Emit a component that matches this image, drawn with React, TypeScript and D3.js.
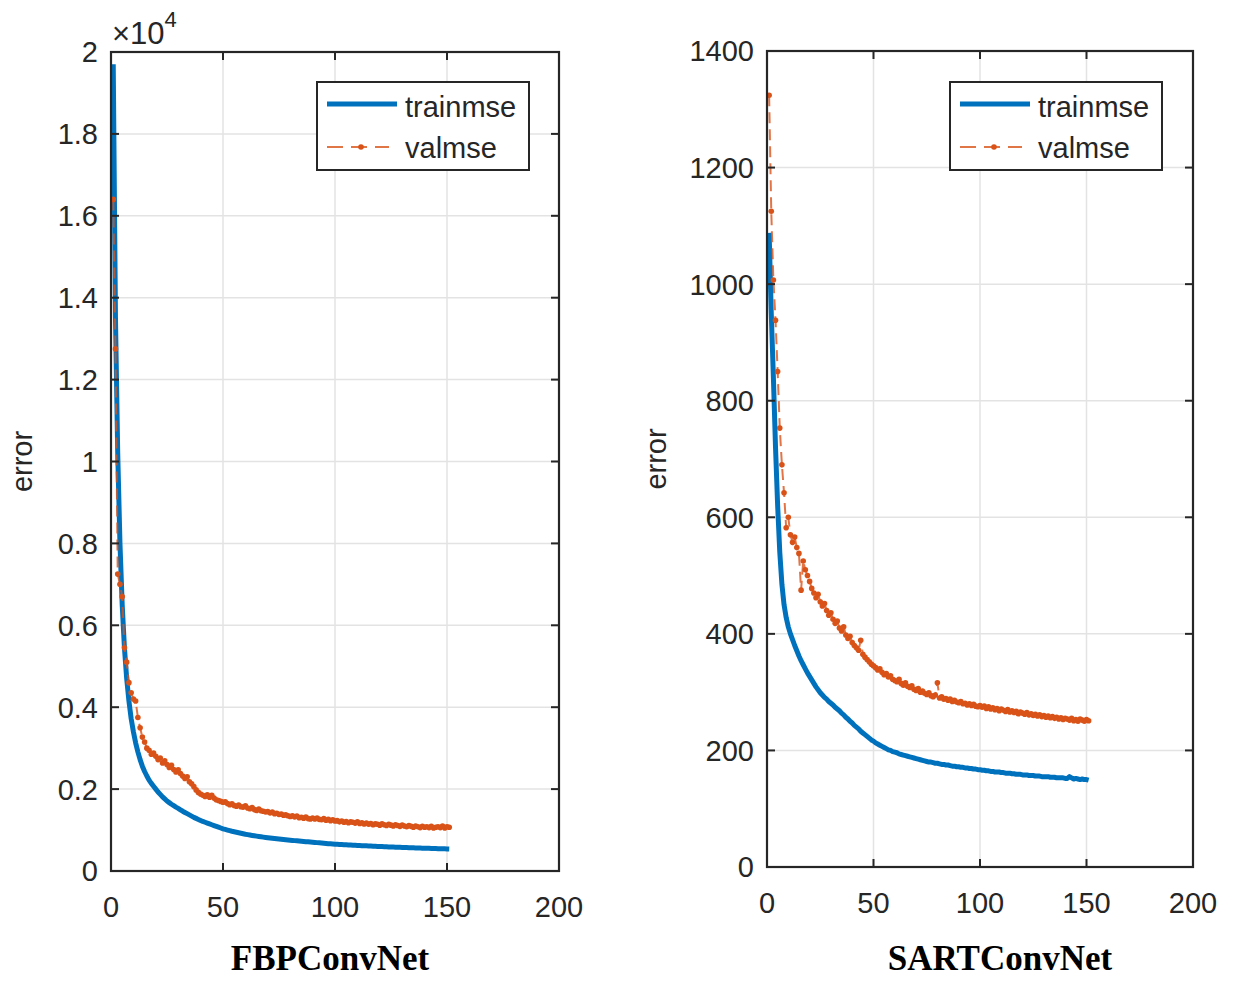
import React from "react";
import * as d3 from "d3";

// FBPConvNet (left) – raw error values, epochs 1..151
const fbpTrain = [
  19700, 13500, 10200, 8000, 6500, 5450, 4700, 4150, 3720, 3400,
  3130, 2910, 2720, 2560, 2430, 2320, 2220, 2140, 2070, 2000,
  1930, 1870, 1810, 1760, 1710, 1670, 1630, 1595, 1560, 1530,
  1495, 1460, 1430, 1400, 1370, 1340, 1310, 1285, 1260, 1235,
  1210, 1190, 1170, 1150, 1130, 1110, 1090, 1070, 1050, 1030,
  1015, 1000, 985, 970, 958, 946, 934, 922, 910, 898,
  888, 878, 869, 860, 851, 843, 835, 827, 819, 812,
  805, 798, 792, 786, 780, 774, 768, 762, 757, 752,
  747, 742, 737, 732, 727, 722, 717, 712, 708, 704,
  698, 693, 688, 683, 678, 673, 668, 664, 660, 656,
  652, 649, 646, 643, 640, 637, 634, 631, 628, 625,
  622, 619, 616, 614, 611, 608, 606, 603, 601, 598,
  596, 594, 591, 589, 587, 585, 582, 580, 578, 576,
  574, 572, 570, 568, 566, 564, 562, 560, 558, 556,
  555, 553, 551, 550, 548, 546, 545, 543, 542, 540, 538,
];
const fbpVal = [
  16400, 12750, 7250, 7000, 6700, 5450, 5100, 4600, 4350, 4200,
  4150, 3750, 3500, 3270, 3150, 3000, 2950, 2850, 2880, 2800,
  2720, 2760, 2640, 2690, 2600, 2530, 2580, 2480, 2420, 2470,
  2380, 2320, 2260, 2300, 2180, 2130, 2060, 1980, 1920, 1880,
  1850, 1820, 1860, 1800, 1850, 1780, 1740, 1720, 1700, 1680,
  1690, 1650, 1620, 1640, 1600, 1580, 1610, 1570, 1560, 1590,
  1540, 1520, 1550, 1500, 1480, 1510, 1470, 1460, 1440, 1450,
  1420, 1440, 1400, 1410, 1380, 1390, 1360, 1370, 1350, 1330,
  1350, 1320, 1340, 1300, 1310, 1290, 1320, 1280, 1270, 1290,
  1270, 1290, 1260, 1250, 1280, 1240, 1260, 1230, 1250, 1220,
  1230, 1200, 1220, 1190, 1210, 1180, 1200, 1190, 1170, 1200,
  1160, 1180, 1150, 1170, 1140, 1160, 1130, 1150, 1140, 1120,
  1150, 1130, 1110, 1140, 1120, 1100, 1130, 1110, 1090, 1120,
  1100, 1080, 1110, 1090, 1070, 1100, 1080, 1060, 1090, 1070,
  1080, 1060, 1090, 1050, 1070, 1080, 1060, 1100, 1050, 1080, 1070,
];

// SARTConvNet (right)
const sartTrain = [
  1088, 950, 840, 720, 620, 540, 485, 450, 428, 412,
  400, 390, 380, 371, 362, 354, 347, 340, 333, 327,
  321, 315, 309, 304, 299, 295, 291, 288, 284, 281,
  278, 274, 271, 268, 264, 261, 257, 254, 250, 247,
  243, 240, 237, 233, 230, 227, 224, 221, 218, 216,
  213, 211, 209, 207, 205, 203, 201, 200, 198, 197,
  196, 194, 193, 192, 191, 190, 189, 188, 187, 186,
  185, 184, 183, 182, 181, 180, 180, 179, 178, 178,
  177, 176, 176, 175, 175, 174, 173, 173, 172, 172,
  171, 171, 170, 170, 169, 169, 168, 168, 167, 167,
  166, 166, 165, 165, 164, 164, 163, 163, 163, 162,
  162, 161, 161, 161, 160, 160, 159, 159, 159, 158,
  158, 158, 157, 157, 157, 156, 156, 156, 155, 155,
  155, 155, 154, 154, 154, 153, 153, 153, 153, 152,
  152, 155, 153, 151, 152, 151, 150, 151, 150, 150, 149,
];
const sartVal = [
  1324, 1125, 1007, 938, 850, 753, 690, 642, 582, 600,
  570, 557, 566, 548, 538, 475, 525, 510, 500, 490,
  478, 470, 462, 468, 455, 448, 452, 440, 432, 436,
  425, 418, 422, 410, 405, 412, 398, 392, 396, 385,
  380, 376, 372, 389, 365, 360, 356, 352, 348, 345,
  342, 338, 340, 334, 330, 332, 326, 328, 322, 320,
  318, 322, 315, 312, 316, 310, 308, 311, 305, 303,
  306, 300, 302, 298, 296, 299, 294, 292, 295, 316,
  290, 292, 288, 289, 286, 288, 284, 286, 283, 282,
  284, 280, 281, 278, 280, 277, 279, 276, 275, 277,
  274, 276, 272, 275, 271, 273, 270, 272, 268, 271,
  269, 267, 270, 266, 268, 265, 267, 263, 266, 264,
  262, 265, 261, 263, 260, 262, 259, 261, 258, 260,
  257, 259, 256, 258, 255, 257, 254, 256, 253, 255,
  254, 252, 255, 251, 253, 250, 254, 252, 250, 253, 251,
];

const xTicks = [0, 50, 100, 150, 200];
const fbpYTicks = [0, 2000, 4000, 6000, 8000, 10000, 12000, 14000, 16000, 18000, 20000];
const sartYTicks = [0, 200, 400, 600, 800, 1000, 1200, 1400];

const BLUE = "#0072BD";
const ORANGE = "#D95319";
const AX = "#262626";
const FONT = "'Liberation Sans', Arial, sans-serif";

type PanelProps = {
  train: number[];
  val: number[];
  yMax: number;
  yTicks: number[];
  fmt: (v: number) => string;
  left: number;
  right: number;
  top: number;
  bottom: number;
  title: string;
  titleX: number;
  errorX: number;
  legX: number;
  exponent?: boolean;
};

function Panel(p: PanelProps) {
  const x = d3.scaleLinear().domain([0, 200]).range([p.left, p.right]);
  const y = d3.scaleLinear().domain([0, p.yMax]).range([p.bottom, p.top]);
  const line = d3
    .line<number>()
    .x((_, i) => x(i + 1))
    .y((d) => y(d));
  const tick = 8;
  const legX = p.legX;
  const legY = 82;

  return (
    <g>
      {/* grid */}
      {xTicks.slice(1, -1).map((t) => (
        <line key={"gx" + t} x1={x(t)} x2={x(t)} y1={p.top} y2={p.bottom} stroke="#e3e3e3" strokeWidth={1.5} />
      ))}
      {p.yTicks.slice(1, -1).map((t) => (
        <line key={"gy" + t} x1={p.left} x2={p.right} y1={y(t)} y2={y(t)} stroke="#e3e3e3" strokeWidth={1.5} />
      ))}

      {/* series: train first, val drawn on top */}
      <path d={line(p.train) ?? ""} fill="none" stroke={BLUE} strokeWidth={5} strokeLinejoin="round" />
      <path d={line(p.val) ?? ""} fill="none" stroke={ORANGE} strokeWidth={2} strokeDasharray="11,6" opacity={0.8} />
      {p.val.map((v, i) => (
        <circle key={"m" + i} cx={x(i + 1)} cy={y(v)} r={2.8} fill={ORANGE} />
      ))}

      {/* box */}
      <rect x={p.left} y={p.top} width={p.right - p.left} height={p.bottom - p.top} fill="none" stroke={AX} strokeWidth={2.2} />
      {xTicks.map((t) => (
        <g key={"xt" + t}>
          <line x1={x(t)} x2={x(t)} y1={p.bottom} y2={p.bottom - tick} stroke={AX} strokeWidth={2} />
          <line x1={x(t)} x2={x(t)} y1={p.top} y2={p.top + tick} stroke={AX} strokeWidth={2} />
          <text x={x(t)} y={p.bottom + 46} textAnchor="middle" fontFamily={FONT} fontSize={29} fill={AX}>
            {t}
          </text>
        </g>
      ))}
      {p.yTicks.map((t) => (
        <g key={"yt" + t}>
          <line x1={p.left} x2={p.left + tick} y1={y(t)} y2={y(t)} stroke={AX} strokeWidth={2} />
          <line x1={p.right} x2={p.right - tick} y1={y(t)} y2={y(t)} stroke={AX} strokeWidth={2} />
          <text x={p.left - 13} y={y(t)} dy="0.36em" textAnchor="end" fontFamily={FONT} fontSize={29} fill={AX}>
            {p.fmt(t)}
          </text>
        </g>
      ))}
      {p.exponent && (
        <text x={p.left + 1} y={44} fontFamily={FONT} fontSize={31} fill={AX}>
          ×10<tspan dy={-17} fontSize={22}>4</tspan>
        </text>
      )}
      <text
        transform={`translate(${p.errorX},${(p.top + p.bottom) / 2}) rotate(-90)`}
        textAnchor="middle"
        fontFamily={FONT}
        fontSize={29}
        fill={AX}
      >
        error
      </text>

      {/* legend */}
      <rect x={legX} y={legY} width={212} height={88} fill="#fff" stroke={AX} strokeWidth={2} />
      <line x1={legX + 10} x2={legX + 80} y1={legY + 22} y2={legY + 22} stroke={BLUE} strokeWidth={5} />
      <text x={legX + 88} y={legY + 35} fontFamily={FONT} fontSize={29} fill={AX}>
        trainmse
      </text>
      <line x1={legX + 10} x2={legX + 72} y1={legY + 65} y2={legY + 65} stroke={ORANGE} strokeWidth={2} strokeDasharray="16,8" opacity={0.8} />
      <circle cx={legX + 44} cy={legY + 65} r={2.8} fill={ORANGE} />
      <text x={legX + 88} y={legY + 76} fontFamily={FONT} fontSize={29} fill={AX}>
        valmse
      </text>

      <text
        x={p.titleX}
        y={970}
        textAnchor="middle"
        fontFamily="'Liberation Serif', 'Times New Roman', serif"
        fontWeight="bold"
        fontSize={35}
        fill="#000"
      >
        {p.title}
      </text>
    </g>
  );
}

export default function App() {
  return (
    <svg width={1235} height={981} style={{ display: "block", position: "absolute", left: 0, top: 0, background: "#fff" }}>
      <Panel
        train={fbpTrain}
        val={fbpVal}
        yMax={20000}
        yTicks={fbpYTicks}
        fmt={(v) => (v === 0 ? "0" : String(+(v / 10000).toFixed(1)))}
        left={111}
        right={559}
        top={52}
        bottom={871}
        title="FBPConvNet"
        titleX={330}
        errorX={32}
        legX={317}
        exponent
      />
      <Panel
        train={sartTrain}
        val={sartVal}
        yMax={1400}
        yTicks={sartYTicks}
        fmt={(v) => String(v)}
        left={767}
        right={1193}
        top={51}
        bottom={867}
        title="SARTConvNet"
        titleX={1000}
        errorX={666}
        legX={950}
      />
    </svg>
  );
}
